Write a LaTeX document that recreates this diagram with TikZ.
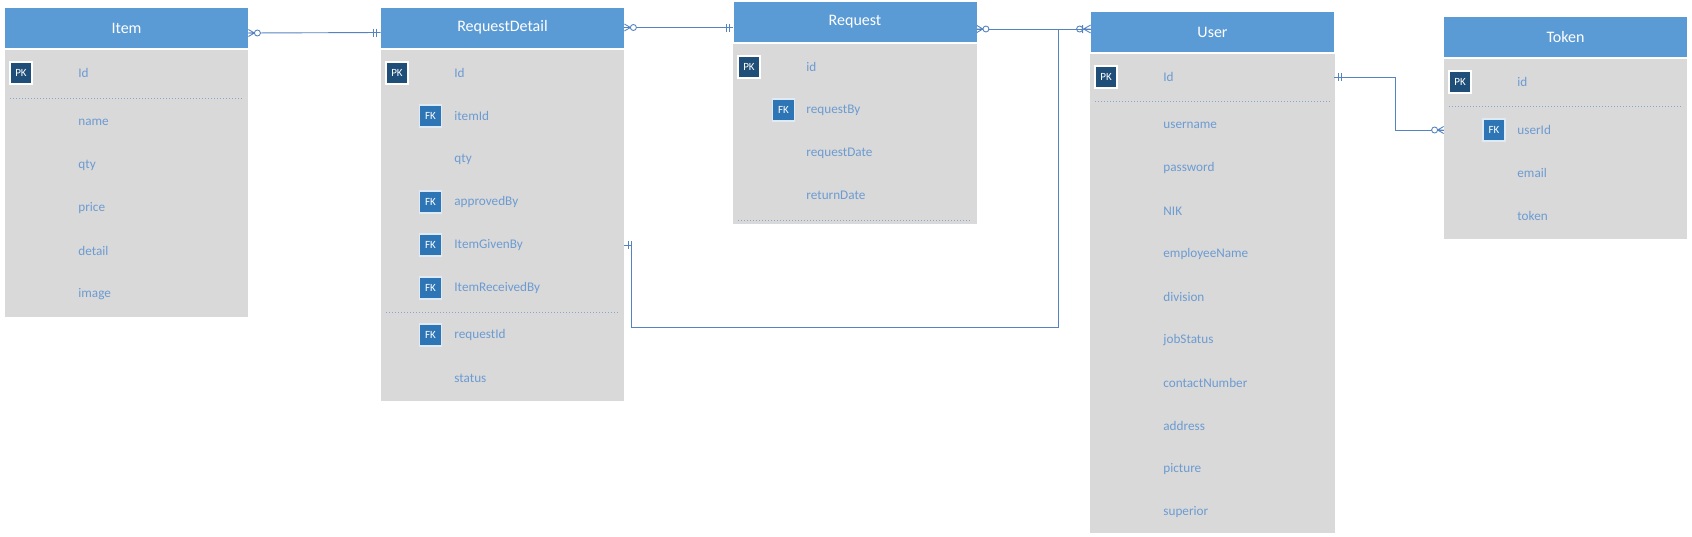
\documentclass[tikz,border=0pt]{standalone}
\usepackage{fontspec}
\setmainfont{Carlito}
\usetikzlibrary{calc}

\definecolor{hdrblue}{HTML}{5B9BD5}
\definecolor{bodygray}{HTML}{D9D9D9}
\definecolor{pkblue}{HTML}{1F4E79}
\definecolor{fkblue}{HTML}{2E75B6}
\definecolor{fldblue}{HTML}{6C9BD2}
\definecolor{relblue}{HTML}{5583C0}
\definecolor{sepblue}{HTML}{8AA6CF}

\tikzset{
  hdr/.style={fill=hdrblue, text=white, font=\fontsize{8}{9}\selectfont,
    minimum height=20pt, minimum width=121.5pt, inner sep=0},
  pkbox/.style={fill=pkblue, draw=white, line width=0.6pt, text=white,
    font=\fontsize{5.5}{6}\selectfont, minimum size=11pt, inner sep=0},
  fkbox/.style={pkbox, fill=fkblue, draw=white!80!hdrblue},
  fld/.style={anchor=west, text=fldblue, font=\fontsize{6.6}{7}\selectfont, inner sep=0},
  sepline/.style={sepblue, densely dotted, line width=0.5pt},
  rel/.style={relblue, line width=0.45pt},
  zmany/.pic={\draw[rel] (0,-3.5) -- (6,0) -- (0,3.5) (0,0) -- (6,0);
    \draw[rel, fill=white] (9,0) circle[radius=3];},
  omany/.pic={\draw[rel] (0,-4) -- (7,0) -- (0,4) (0,0) -- (7,0) (8,-4) -- (8,4);
    \draw[rel] (11,0) circle[radius=3];},
  onlyone/.pic={\draw[rel] (4,-4) -- (4,4) (7,-4) -- (7,4);},
}

\begin{document}
\begin{tikzpicture}[x=0.5pt, y=-0.5pt]
  \useasboundingbox (0,0) rectangle (1692,536);
  % Item
  \fill[bodygray] (5,49.5) rectangle (248,317);
  \node[hdr] (item) at (126.5,28) {Item};
  \node[pkbox] (itemPK) at (21,73) {PK};
  \node[fld] (itemId) at (78,73) {Id};
  \draw[sepline] (10,98) -- (243,98);
  \foreach \f [count=\i] in {name,qty,price,detail,image}
    \node[fld] (item-\f) at (78,79+43*\i) {\f};

  % RequestDetail
  \fill[bodygray] (381,49.5) rectangle (624,401);
  \node[hdr] (rd) at (502.5,27.5) {RequestDetail};
  \node[pkbox] (rdPK) at (397,73) {PK};
  \node[fld] (rdId) at (454,73) {Id};
  \foreach \f/\y in {itemId/116,approvedBy/202,ItemGivenBy/245,ItemReceivedBy/288,requestId/335}
    \node[fkbox] (rdFK\f) at (430.5,\y) {FK};
  \foreach \f/\y in {itemId/116,qty/159,approvedBy/202,ItemGivenBy/245,ItemReceivedBy/288,requestId/335,status/378}
    \node[fld] (rd\f) at (454,\y) {\f};
  \draw[sepline] (386,312) -- (619,312);

  % Request
  \fill[bodygray] (733,43.5) rectangle (977,224);
  \node[hdr] (req) at (855,22) {Request};
  \node[pkbox] (reqPK) at (749,67) {PK};
  \node[fld] (reqId) at (806,67) {id};
  \node[fkbox] (reqFK) at (783.5,110) {FK};
  \foreach \f/\y in {requestBy/110,requestDate/153,returnDate/195}
    \node[fld] (req\f) at (806,\y) {\f};
  \draw[sepline] (738,220) -- (972,220);

  % User
  \fill[bodygray] (1090,53.5) rectangle (1335,533);
  \node[hdr] (user) at (1212.5,32) {User};
  \node[pkbox] (userPK) at (1106,77) {PK};
  \node[fld] (userId) at (1163,77) {Id};
  \draw[sepline] (1095,101) -- (1330,101);
  \foreach \f [count=\i from 0] in {username,password,NIK,employeeName,division,jobStatus,contactNumber,address,picture,superior}
    \node[fld] (user\f) at (1163,125+43*\i) {\f};

  % Token
  \fill[bodygray] (1444,58.5) rectangle (1687,239);
  \node[hdr] (token) at (1565.5,37) {Token};
  \node[pkbox] (tkPK) at (1460,82) {PK};
  \node[fld] (tkId) at (1517,82) {id};
  \draw[sepline] (1449,106) -- (1682,106);
  \node[fkbox] (tkFK) at (1494,130) {FK};
  \foreach \f/\y in {userId/130,email/173,token/216}
    \node[fld] (tk\f) at (1517,\y) {\f};

  % relations
  \draw[rel] ([yshift=-2.5pt]item.east) -- ([yshift=-2.5pt]rd.west);
  \pic at ([yshift=-2.5pt]item.east) {zmany};
  \pic[xscale=-1] at ([yshift=-2.5pt]rd.west) {onlyone};

  \draw[rel] (rd.east) -- (rd.east -| req.west);
  \pic at (rd.east) {zmany};
  \pic[xscale=-1] at (rd.east -| req.west) {onlyone};

  \coordinate (reqR) at ([yshift=-3.5pt]req.east);
  \draw[rel] (reqR) -- (reqR -| user.west);
  \pic at (reqR) {zmany};
  \pic[xscale=-1] at (reqR -| user.west) {omany};

  \coordinate (jn) at (1058,327);
  \draw[rel] (rd.east |- rdItemGivenBy) -- ++(7,0) |- (jn) -- (jn |- reqR);
  \pic at (rd.east |- rdItemGivenBy) {onlyone};

  \draw[rel] (user.east |- userId) -- ++(61,0) |- (token.west |- tkuserId);
  \pic at (user.east |- userId) {onlyone};
  \pic[xscale=-1] at (token.west |- tkuserId) {zmany};
\end{tikzpicture}
\end{document}
